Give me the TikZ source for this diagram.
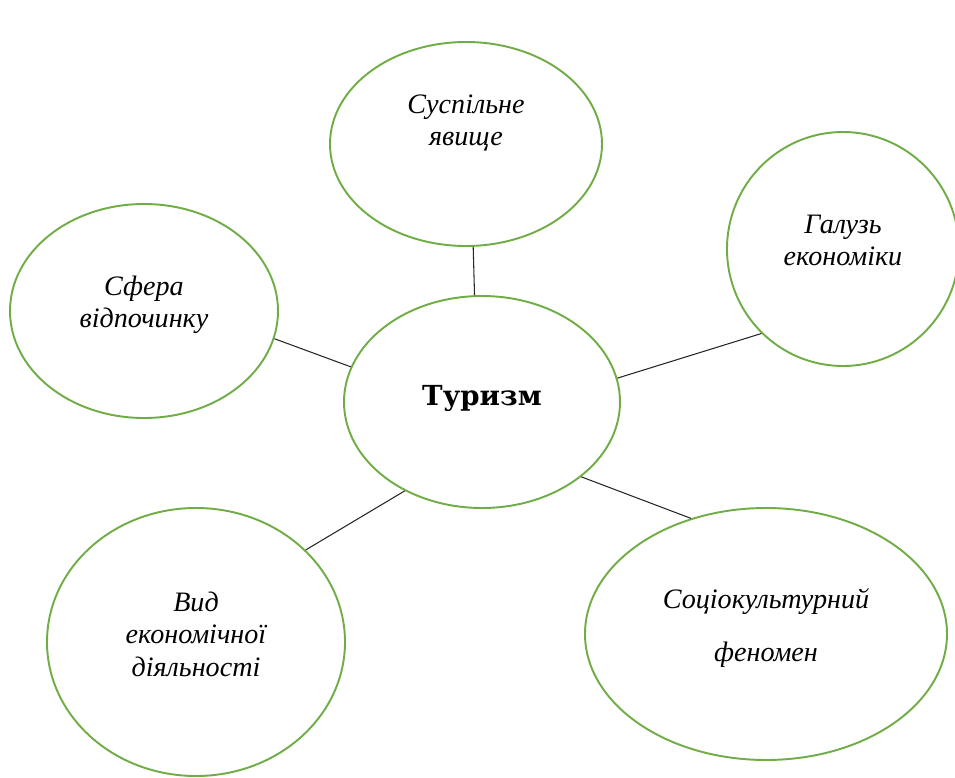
\documentclass[tikz,border=0pt]{standalone}
\usepackage{fontspec}
\setmainfont{Liberation Serif}
\newfontfamily\boldfont{DejaVu Serif}
\usetikzlibrary{shapes.geometric}
\definecolor{ellgreen}{RGB}{112,173,71}
\begin{document}
\begin{tikzpicture}
  \tikzstyle{ell}=[ellipse,draw=ellgreen,line width=1.1pt,align=center,inner sep=0pt,
    font=\itshape\fontsize{16}{18}\selectfont]
  \tikzstyle{link}=[draw=black!85,line width=0.6pt]
  \tikzstyle{lift}=[text depth=#1]
  \useasboundingbox (0,0) rectangle (19.1,-15.56);

  \node[ell,minimum width=5.52cm,minimum height=4.24cm,lift=0.28cm,
        font=\boldfont\bfseries\fontsize{15.7}{18}\selectfont] (C) at (9.64,-8.04) {Туризм};
  \node[ell,minimum width=5.44cm,minimum height=4.08cm,lift=0.95cm] (S_1) at (9.32,-2.88) {Суспільне\\явище};
  \node[ell,minimum width=5.36cm,minimum height=4.28cm,lift=0.36cm] (S_2) at (2.88,-6.22) {Сфера\\відпочинку};
  \node[ell,minimum width=4.64cm,minimum height=4.68cm,lift=0.34cm] (S_3) at (16.86,-4.98) {Галузь\\економіки};
  \node[ell,minimum width=7.24cm,minimum height=5.04cm,lift=0.36cm] (S_4) at (15.32,-12.68) {Соціокультурний\\[12pt]феномен};
  \node[ell,minimum width=5.96cm,minimum height=5.36cm,lift=0.32cm,
        font=\itshape\fontsize{16}{18.5}\selectfont] (S_5) at (3.92,-12.84) {Вид\\економічної\\діяльності};

  \draw[link] (S_1.-86) -- (C.94);
  \draw[link] (S_2.-12) -- (C.165);
  \draw[link] (C.10) -- (S_3.226);
  \draw[link] (C.-37) -- (S_4.123);
  \draw[link] (C.229) -- (S_5.40);
\end{tikzpicture}
\end{document}
